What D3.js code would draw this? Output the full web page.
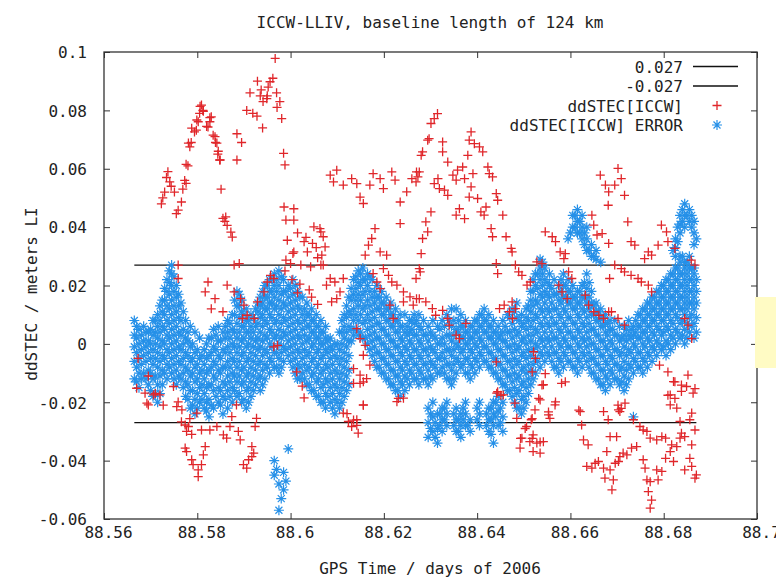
<!DOCTYPE html>
<html><head><meta charset="utf-8">
<script src="https://cdn.jsdelivr.net/npm/d3@7"></script>
<style>
body{margin:0;background:#fff}
svg{display:block}
text{font-family:"DejaVu Sans Mono",monospace;font-size:16px;fill:#222}
</style></head>
<body><svg id="chart" width="776" height="581"></svg>
<script>
// ---- data ----
const title = "ICCW-LLIV, baseline length of 124 km";
const xLabel = "GPS Time / days of 2006";
const yLabel = "ddSTEC / meters LI";
const xTicks = [88.56, 88.58, 88.6, 88.62, 88.64, 88.66, 88.68, 88.7];
const xTickLabels = ["88.56","88.58","88.6","88.62","88.64","88.66","88.68","88.7"];
const yTicks = [-0.06, -0.04, -0.02, 0, 0.02, 0.04, 0.06, 0.08, 0.1];
const yTickLabels = ["-0.06","-0.04","-0.02","0","0.02","0.04","0.06","0.08","0.1"];
const thresholdValues = [0.027, -0.027];
const thresholdSpan = [88.5665, 88.687];
const legendLabels = ["0.027", "-0.027", "ddSTEC[ICCW]", "ddSTEC[ICCW] ERROR"];

const redPoints = [
[88.5723,0.048],[88.5726,0.050],[88.5730,0.052],[88.5734,0.057],[88.5737,0.059],[88.5741,0.0555],[88.5744,0.054],[88.5751,0.052],[88.5755,0.0446],[88.5759,0.0458],[88.5766,0.0486],[88.5769,0.053],[88.5773,0.056],[88.5776,0.055],[88.5776,0.0615],[88.5780,0.061],[88.5781,0.0688],[88.5784,0.0675],[88.5787,0.069],[88.5788,0.0739],[88.5794,0.0726],[88.5798,0.0732],[88.5799,0.0767],[88.5802,0.0761],[88.5805,0.079],[88.5806,0.0814],[88.5809,0.0818],[88.5812,0.080],[88.5813,0.0797],[88.5820,0.0745],[88.5823,0.0743],[88.5827,0.0761],[88.5827,0.0775],[88.5830,0.0778],[88.5834,0.0715],[88.5838,0.071],[88.5839,0.069],[88.5842,0.0688],[88.5844,0.065],[88.5845,0.066],[88.5848,0.063],[88.5849,0.063],[88.5851,0.053],[88.5855,0.043],[88.5859,0.042],[88.5861,0.0435],[88.5864,0.0406],[88.5872,0.0383],[88.5875,0.0366],[88.5879,0.027],[88.5890,0.0275],
[88.5885,0.063],[88.5885,0.072],[88.5895,0.069],[88.5906,0.080],[88.5913,0.086],[88.5919,0.079],[88.5928,0.078],[88.5940,0.074],[88.5941,0.083],[88.5949,0.084],[88.5956,0.0898],[88.5967,0.0978],[88.5970,0.086],[88.5971,0.081],[88.5977,0.083],[88.5981,0.0772],[88.5985,0.0653],[88.5988,0.0613],[88.5935,0.085],[88.5952,0.088],[88.5962,0.091],[88.5929,0.090],[88.5937,0.087],[88.5950,0.085],
[88.5986,0.0469],[88.5990,0.0424],[88.6007,0.0463],[88.6007,0.0424],[88.6050,0.0401],[88.6065,0.0384],[88.5993,0.0355],[88.6029,0.035],[88.6047,0.0344],[88.6007,0.0315],[88.6036,0.0315],[88.5990,0.0287],[88.6000,0.0275],[88.6022,0.027],[88.6065,0.027],[88.6043,0.0264],[88.6015,0.038],[88.6033,0.0365],[88.6055,0.033],[88.6058,0.0295],[88.6005,0.031],
[88.5988,0.025],[88.6003,0.022],[88.6020,0.0205],[88.6040,0.0185],[88.6045,0.016],[88.6058,0.0135],[88.6015,0.0175],
[88.5864,0.0201],[88.5879,0.0178],[88.5893,0.0155],[88.5900,0.0133],[88.5907,0.0098],[88.5897,0.0087],[88.5929,0.0144],[88.5943,0.0178],[88.5950,0.0212],[88.5964,0.0224],[88.5957,0.0235],[88.5972,-0.0005],[88.5964,-0.001],[88.5922,0.0087],
[88.6013,-0.0096],[88.6025,-0.0145],[88.6029,-0.0185],
[88.5759,0.027],[88.5759,0.0224],[88.5817,0.0178],[88.5838,0.0155],[88.5855,0.011],[88.5823,0.0212],[88.5830,0.012],[88.5673,-0.005],[88.5695,-0.011],[88.5710,-0.017],[88.5727,-0.021],[88.5759,-0.0199],[88.5784,-0.0256],[88.5766,-0.0267],[88.5788,-0.031],
[88.5670,-0.0152],[88.5688,-0.0169],[88.5692,-0.0203],[88.5706,-0.0175],[88.5695,-0.0209],[88.5720,-0.0175],[88.5749,-0.0146],[88.5756,-0.0215],[88.5767,-0.0226],[88.5774,-0.0278],[88.5781,-0.0283],[88.5777,-0.030],[88.5799,-0.0237],[88.5774,-0.0357],[88.5777,-0.0369],[88.5788,-0.0397],[88.5791,-0.0414],[88.5802,-0.0432],[88.5802,-0.0455],[88.5809,-0.0414],[88.5817,-0.0352],[88.5813,-0.038],[88.5809,-0.0295],[88.5827,-0.0295],[88.5842,-0.0283],[88.5856,-0.0312],[88.5863,-0.0323],[88.5870,-0.0283],[88.5874,-0.0249],[88.5884,-0.0209],[88.5888,-0.030],[88.5892,-0.0329],[88.5899,-0.0414],[88.5906,-0.0426],[88.5910,-0.0397],[88.5917,-0.0386],[88.5921,-0.0374],[88.5917,-0.0352],[88.5924,-0.0283],[88.5927,-0.0255],
[88.6113,-0.0237],[88.6124,-0.0266],[88.6131,-0.0283],[88.6145,-0.0306],[88.6142,-0.026],[88.6156,-0.0209],[88.6149,-0.0135],[88.6135,-0.0135],[88.6228,-0.0198],[88.6242,-0.0186],
[88.6442,-0.0169],[88.6456,-0.0175],[88.6481,-0.0203],[88.6485,-0.0255],[88.6506,-0.0283],[88.6496,-0.0323],[88.6492,-0.0357],[88.6513,-0.0335],[88.6520,-0.0312],[88.6528,-0.034],[88.6535,-0.0374],[88.6542,-0.0335],[88.6520,-0.0369],[88.6516,-0.026],[88.6524,-0.0226],[88.6535,-0.0192],[88.6542,-0.014],[88.6553,-0.0243],[88.6556,-0.0255],[88.6567,-0.0209],[88.6581,-0.0135],
[88.6621,-0.0232],[88.6624,-0.0278],[88.6628,-0.0329],[88.6638,-0.0346],[88.6635,-0.042],[88.6646,-0.0426],[88.6653,-0.0409],[88.6660,-0.0403],[88.6671,-0.0426],[88.6674,-0.046],[88.6685,-0.0432],[88.6692,-0.0466],[88.6689,-0.050],[88.6696,-0.0409],[88.6703,-0.0403],[88.6706,-0.0386],[88.6713,-0.0374],[88.6721,-0.038],[88.6731,-0.0357],[88.6742,-0.0352],[88.6678,-0.0369],[88.6685,-0.0318],[88.6699,-0.0318],[88.6681,-0.026],[88.6671,-0.0232],[88.6706,-0.0232],[88.6717,-0.0203],[88.6703,-0.0226],[88.6735,-0.026],[88.6749,-0.0283],[88.6756,-0.0295],[88.6764,-0.030],
[88.6756,-0.0397],[88.6760,-0.0426],[88.6764,-0.0466],[88.6771,-0.0472],[88.6767,-0.0506],[88.6774,-0.0535],[88.6771,-0.0563],[88.6785,-0.0432],[88.6788,-0.0466],[88.6796,-0.0437],[88.6771,-0.0323],[88.6785,-0.0329],[88.6796,-0.0318],[88.6804,-0.0323],[88.6804,-0.0392],[88.6814,-0.0369],[88.6821,-0.0403],[88.6817,-0.0346],[88.6828,-0.0352],[88.6835,-0.0323],[88.6838,-0.0306],[88.6845,-0.0318],[88.6860,-0.0346],[88.6867,-0.0295],[88.6856,-0.0392],[88.6845,-0.0432],[88.6860,-0.042],[88.6867,-0.046],[88.6870,-0.0449],[88.6856,-0.026],[88.6860,-0.0237],[88.6835,-0.0266],[88.6814,-0.0209],[88.6828,-0.022],[88.6814,-0.0175],[88.6838,-0.0163],[88.6849,-0.0146],[88.6863,-0.0169],[88.6821,-0.0129],
[88.6085,0.0578],[88.6099,0.0595],[88.6092,0.0555],[88.6113,0.0544],[88.6131,0.0566],[88.6142,0.0549],[88.6149,0.0503],[88.6156,0.0481],[88.6170,0.0544],[88.6177,0.0583],[88.6192,0.0566],[88.6199,0.0532],[88.6217,0.0589],[88.6224,0.0561],[88.6235,0.0486],[88.6249,0.0521],[88.6260,0.0566],[88.6270,0.0589],[88.6235,0.0412],[88.6181,0.0395],[88.6174,0.0361],[88.6167,0.0338],[88.6160,0.0304],[88.6192,0.0315],[88.6206,0.0304],[88.6199,0.0258],[88.6210,0.0235],[88.6217,0.0212],[88.6228,0.0201],[88.6242,0.0178],[88.6256,0.0161],[88.6270,0.0155],[88.6177,0.0241],[88.6185,0.0212],[88.6192,0.0189],[88.6213,0.0133],
[88.6063,0.0395],[88.6070,0.0367],[88.6074,0.0332],[88.6067,0.0304],[88.6070,0.027],[88.6085,0.0224],[88.6077,0.0201],[88.6095,0.0212],[88.6106,0.0178],[88.6099,0.0155],[88.6088,0.0144],[88.6113,0.0224],[88.6142,0.0052],[88.6149,0.0018],[88.6160,-0.0005],[88.6156,-0.0039],[88.6170,-0.0073],[88.6135,-0.0085],[88.6149,-0.0107],[88.6156,-0.013],[88.6163,-0.0119],[88.6231,-0.0187],[88.6156,-0.021],[88.6121,-0.0239],[88.6135,-0.0261],[88.6142,-0.0279],[88.6242,0.0144],[88.6263,0.0133],[88.6220,0.0087],[88.6278,0.0247],
[88.6315,0.0789],[88.6308,0.0772],[88.6301,0.0755],[88.6297,0.0703],[88.6294,0.0698],[88.6283,0.0658],[88.6280,0.0646],[88.6276,0.0589],[88.6273,0.0572],[88.6269,0.0555],[88.6326,0.0692],[88.6326,0.0658],[88.6337,0.0623],[88.6316,0.0566],[88.6308,0.0549],[88.6319,0.0532],[88.6330,0.0527],[88.6337,0.0509],[88.6348,0.0578],[88.6358,0.0595],[88.6369,0.0606],[88.6373,0.0566],[88.6355,0.0561],[88.6387,0.0726],[88.6383,0.0698],[88.6394,0.0686],[88.6405,0.0675],[88.6412,0.0658],[88.6380,0.0646],[88.6391,0.0583],[88.6423,0.0606],[88.6426,0.0583],[88.6433,0.0572],[88.6441,0.0515],[88.6444,0.0492],[88.6455,0.0441],[88.6387,0.0538],[88.6383,0.0503],[88.6401,0.0498],[88.6362,0.0463],[88.6355,0.0441],[88.6373,0.0429],[88.6408,0.0452],[88.6415,0.0441],[88.6419,0.0469],[88.6430,0.0395],[88.6433,0.0367],
[88.6301,0.0452],[88.6290,0.0418],[88.6294,0.0384],[88.6283,0.0361],[88.6280,0.0309],[88.6276,0.0258],[88.6462,0.0367],[88.6473,0.0327],[88.6441,0.0275],[88.6444,0.0241],[88.6269,0.0224],[88.6276,0.0155],[88.6290,0.0144],[88.6304,0.0121],[88.6311,0.0098],[88.6326,0.0115],[88.6337,0.0087],[88.6340,0.0064],[88.6355,0.003],[88.6362,0.0018],[88.6376,0.007],[88.6441,-0.0062],[88.6444,-0.0164],[88.6451,-0.0176],[88.6448,0.0121],[88.6458,0.0133],[88.6469,0.011],[88.6476,0.0087],
[88.6664,0.0578],[88.6675,0.0544],[88.6682,0.0521],[88.6646,0.0441],[88.6650,0.0407],[88.6657,0.0373],[88.6668,0.0378],[88.6682,0.0344],[88.6546,0.0384],[88.6561,0.0367],[88.6568,0.035],[88.6578,0.0315],[88.6589,0.0309],[88.6586,0.0292],[88.6528,0.0281],[88.6539,0.0275],[88.6475,0.0315],[88.6482,0.027],[88.6489,0.0247],[88.6496,0.0235],[88.6507,0.0201],[88.6514,0.0212],[88.6575,0.0201],[88.6582,0.0178],[88.6593,0.0155],[88.6596,0.0247],[88.6603,0.0224],[88.6475,0.0144],[88.6482,0.0121],[88.6632,0.0167],[88.6639,0.0133],[88.6650,0.011],[88.6661,0.0098],[88.6671,0.0087],[88.6682,0.011],
[88.6521,-0.0027],[88.6525,-0.005],[88.6518,-0.0096],[88.6546,-0.0102],[88.6539,-0.0141],[88.6532,-0.0187],[88.6568,-0.0199],[88.6553,-0.0233],[88.6589,-0.013],[88.6618,-0.0227],[88.6518,-0.0256],[88.6503,-0.029],[88.6518,-0.0324],[88.6535,-0.0336],[88.6493,-0.0324],
[88.6702,0.0601],[88.6709,0.0566],[88.6695,0.0544],[88.6716,0.0509],[88.6681,0.0475],[88.6723,0.0418],[88.6730,0.035],[88.6738,0.0338],[88.6795,0.0407],[88.6806,0.0384],[88.6809,0.035],[88.6788,0.0338],[88.6767,0.0315],[88.6774,0.0304],[88.6759,0.0292],[88.6824,0.0327],[88.6859,0.0287],[88.6867,0.027],[88.6695,0.027],[88.6709,0.0258],[88.6716,0.0247],[88.6730,0.0235],[88.6745,0.0224],[88.6752,0.0212],[88.6767,0.0201],[88.6774,0.0178],[88.6684,0.0224],[88.6688,0.011],[88.6702,0.0087],[88.6716,0.0064],[88.6845,0.0087],[88.6852,0.0064],[88.6860,0.0018],[88.6791,-0.0073],[88.6809,-0.0096],[88.6824,-0.013],[88.6838,-0.0141],[88.6852,-0.0107],[88.6867,-0.0153],[88.6809,-0.0176],[88.6824,-0.0187],[88.6702,-0.021],[88.6709,-0.0221]
];

// blue "ERROR" series, first group of epochs
const blueTimesA = [
88.5665,88.5675,88.5685,88.5695,88.5705,88.5715,88.5725,88.5735,88.5745,88.5755,
88.5765,88.5775,88.5785,88.5795,88.5805,88.5815,88.5825,88.5835,88.5845,88.5855,
88.5865,88.5875,88.5885,88.5895,88.5905,88.5915,88.5925,88.5935,88.5945,88.5955,
88.5965,88.5975,88.5985,88.5995,88.6005,88.6015,88.6025,88.6035,88.6045,88.6055,
88.6065,88.6075,88.6085,88.6095,88.6105,88.6115,88.6125,88.6135,88.6145,88.6155,
88.6165,88.6175,88.6185,88.6195,88.6205,88.6215,88.6225,88.6235,88.6245,88.6255,
88.6265,88.6275,88.6285,88.6295,88.6305,88.6315,88.6325,88.6335,88.6345,88.6355,
88.6365,88.6375,88.6385,88.6395,88.6405,88.6415,88.6425,88.6435,88.6445,88.6455,
88.6465,88.6475,88.6485,88.6495,88.6505,88.6515,88.6525,88.6535,88.6545,88.6555,
88.6565,88.6575,88.6585,88.6595,88.6605,88.6615,88.6625,88.6635,88.6645,88.6655,
88.6665,88.6675,88.6685,88.6695,88.6705,88.6715,88.6725,88.6735,88.6745,88.6755,
88.6765,88.6775,88.6785,88.6795,88.6805,88.6815,88.6825,88.6835,88.6845,88.6855,88.6865
];
const blueValuesA = [
[-0.012,-0.006,-0.001,0.003,0.008],
[-0.015,-0.010,-0.005,0.000,0.005],
[-0.010,-0.004,0.001,0.006],
[-0.014,-0.009,-0.003,0.001,0.004],
[-0.018,-0.012,-0.007,-0.002,0.003,0.008],
[-0.020,-0.014,-0.008,-0.003,0.002,0.006,0.010],
[-0.014,-0.009,-0.004,0.001,0.006,0.011,0.015],
[-0.012,-0.007,-0.002,0.003,0.008,0.013,0.018,0.022],
[-0.010,-0.005,0.000,0.005,0.010,0.015,0.020,0.024,0.027],
[-0.014,-0.009,-0.004,0.001,0.006,0.011,0.016,0.020],
[-0.012,-0.007,-0.002,0.003,0.008,0.014],
[-0.018,-0.013,-0.008,-0.003,0.002,0.008],
[-0.022,-0.016,-0.011,-0.006,-0.001,0.006],
[-0.024,-0.019,-0.013,-0.008,-0.003,0.004],
[-0.020,-0.015,-0.010,-0.005,0.002],
[-0.022,-0.017,-0.012,-0.007,-0.002],
[-0.025,-0.019,-0.014,-0.009,-0.004,0.002],
[-0.022,-0.016,-0.011,-0.006,-0.001,0.005],
[-0.020,-0.015,-0.009,-0.004,0.001,0.006],
[-0.024,-0.018,-0.013,-0.008,-0.002,0.004],
[-0.022,-0.016,-0.011,-0.006,-0.001,0.004,0.008],
[-0.020,-0.015,-0.010,-0.005,0.000,0.005,0.010],
[-0.018,-0.013,-0.008,-0.003,0.002,0.007,0.013,0.018],
[-0.020,-0.014,-0.009,-0.004,0.001,0.006,0.011,0.015],
[-0.022,-0.016,-0.011,-0.006,-0.001,0.004,0.008,0.012],
[-0.018,-0.013,-0.008,-0.003,0.002,0.006,0.010],
[-0.014,-0.009,-0.004,0.001,0.006,0.012],
[-0.016,-0.011,-0.006,-0.001,0.004,0.009,0.013,0.016],
[-0.012,-0.007,-0.002,0.003,0.008,0.012,0.016,0.020],
[-0.010,-0.005,0.000,0.005,0.010,0.014,0.018,0.022],
[-0.045,-0.040,-0.008,-0.003,0.002,0.007,0.012,0.016,0.020,0.024],
[-0.057,-0.048,-0.010,-0.005,0.000,0.005,0.010,0.015,0.020,0.025],
[-0.050,-0.044,-0.006,-0.001,0.004,0.009,0.014,0.018,0.022],
[-0.036,-0.004,0.001,0.006,0.011,0.016,0.020],
[-0.008,-0.003,0.002,0.007,0.012,0.017,0.022],
[-0.012,-0.007,-0.002,0.003,0.008,0.013,0.018],
[-0.010,-0.005,0.000,0.005,0.010,0.016],
[-0.014,-0.009,-0.004,0.001,0.006,0.010,0.014],
[-0.016,-0.011,-0.006,-0.001,0.004,0.008,0.012],
[-0.018,-0.013,-0.008,-0.003,0.002,0.006,0.010],
[-0.020,-0.015,-0.010,-0.005,0.000,0.004,0.008],
[-0.022,-0.017,-0.012,-0.007,-0.002,0.002,0.006],
[-0.020,-0.015,-0.010,-0.005,-0.001,0.002],
[-0.024,-0.019,-0.014,-0.009,-0.004,0.000],
[-0.022,-0.017,-0.012,-0.007,-0.002,0.004],
[-0.018,-0.013,-0.008,-0.003,0.002,0.006,0.010],
[-0.014,-0.009,-0.004,0.001,0.006,0.011,0.016],
[0.003,0.008,0.012,0.017,0.022],
[0.003,0.008,0.013,0.017,0.021,0.025],
[0.002,0.007,0.012,0.017,0.022,0.026],
[0.000,0.005,0.010,0.015,0.020,0.024],
[-0.004,0.001,0.006,0.011,0.016,0.022],
[-0.008,-0.003,0.002,0.007,0.012,0.016,0.020],
[-0.010,-0.005,0.000,0.005,0.010,0.014,0.018],
[-0.012,-0.007,-0.002,0.003,0.008,0.012,0.016],
[-0.014,-0.009,-0.004,0.001,0.006,0.010,0.014],
[-0.016,-0.011,-0.006,-0.001,0.004,0.008,0.012],
[-0.018,-0.013,-0.008,-0.003,0.002,0.006,0.010],
[-0.016,-0.011,-0.006,-0.001,0.004,0.010],
[-0.014,-0.009,-0.004,0.001,0.004,0.008],
[-0.012,-0.007,-0.002,0.003,0.007,0.010],
[-0.014,-0.009,-0.004,0.001,0.006,0.010],
[-0.012,-0.007,-0.002,0.003,0.008],
[-0.032,-0.027,-0.022,-0.014,-0.009,-0.004,0.001,0.006],
[-0.030,-0.025,-0.020,-0.012,-0.007,-0.002,0.003,0.008],
[-0.034,-0.029,-0.024,-0.010,-0.005,0.000,0.006],
[-0.030,-0.026,-0.022,-0.008,-0.003,0.002,0.008],
[-0.028,-0.024,-0.020,-0.012,-0.007,-0.002,0.003,0.010],
[-0.014,-0.009,-0.004,0.001,0.006,0.012],
[-0.030,-0.026,-0.022,-0.010,-0.005,0.000,0.005,0.012],
[-0.032,-0.028,-0.024,-0.008,-0.003,0.002,0.006,0.010],
[-0.028,-0.024,-0.020,-0.010,-0.005,0.000,0.004,0.008],
[-0.030,-0.026,-0.012,-0.007,-0.002,0.002,0.006],
[-0.010,-0.005,0.000,0.004,0.008],
[-0.028,-0.024,-0.020,-0.008,-0.003,0.002,0.006,0.010],
[-0.006,-0.001,0.004,0.008,0.012],
[-0.030,-0.026,-0.022,-0.008,-0.003,0.002,0.006,0.010],
[-0.034,-0.028,-0.024,-0.020,-0.010,-0.005,0.000,0.004,0.008],
[-0.028,-0.023,-0.018,-0.012,-0.007,-0.002,0.002,0.006],
[-0.030,-0.025,-0.020,-0.014,-0.009,-0.004,0.001,0.004,0.008],
[-0.016,-0.011,-0.006,-0.001,0.004,0.010],
[-0.018,-0.013,-0.008,-0.003,0.002,0.007,0.012],
[-0.022,-0.017,-0.012,-0.007,-0.002,0.003,0.009,0.014],
[-0.024,-0.019,-0.014,-0.009,-0.004,0.001,0.006,0.010],
[-0.020,-0.015,-0.010,-0.005,0.000,0.005,0.009,0.012],
[-0.014,-0.009,-0.004,0.001,0.006,0.011,0.015,0.018],
[-0.010,-0.005,0.000,0.005,0.010,0.015,0.020,0.024],
[-0.008,-0.003,0.002,0.007,0.012,0.017,0.022,0.026,0.029],
[-0.006,-0.001,0.004,0.009,0.014,0.018,0.022,0.026],
[-0.004,0.001,0.006,0.011,0.016,0.020,0.024],
[-0.008,-0.003,0.002,0.007,0.012,0.017,0.022],
[-0.010,-0.005,0.000,0.005,0.010,0.015,0.020],
[-0.008,-0.003,0.002,0.007,0.012,0.016,0.020,0.024],
[-0.006,-0.001,0.004,0.009,0.014,0.018,0.022,0.036],
[-0.008,-0.003,0.002,0.007,0.012,0.016,0.020,0.040,0.044],
[-0.010,-0.005,0.000,0.005,0.010,0.014,0.018,0.038,0.042,0.046],
[-0.008,-0.003,0.002,0.007,0.012,0.016,0.020,0.036,0.040,0.044],
[-0.006,-0.001,0.004,0.009,0.014,0.019,0.024,0.032,0.036,0.040],
[-0.010,-0.005,0.000,0.005,0.010,0.014,0.018,0.030,0.034],
[-0.012,-0.007,-0.002,0.003,0.008,0.011,0.014,0.029,0.032],
[-0.014,-0.009,-0.004,0.001,0.006,0.009,0.012,0.028],
[-0.016,-0.011,-0.006,-0.001,0.004,0.007,0.010],
[-0.014,-0.009,-0.004,0.001,0.005,0.008],
[-0.012,-0.007,-0.002,0.003,0.008],
[-0.014,-0.009,-0.004,0.001,0.006],
[-0.016,-0.011,-0.006,-0.001,0.003,0.006],
[-0.012,-0.007,-0.002,0.003,0.008],
[-0.025,-0.010,-0.005,0.000,0.003,0.006],
[-0.008,-0.003,0.002,0.006,0.010],
[-0.010,-0.005,0.000,0.004,0.008,0.012],
[-0.008,-0.003,0.002,0.006,0.010,0.014],
[-0.006,-0.001,0.004,0.008,0.012,0.016],
[-0.004,0.001,0.006,0.010,0.014,0.018],
[-0.002,0.003,0.008,0.012,0.016,0.020],
[-0.004,0.001,0.006,0.010,0.014,0.018,0.022],
[-0.002,0.003,0.008,0.012,0.016,0.020,0.024],
[0.000,0.005,0.010,0.014,0.018,0.022,0.026,0.030,0.033,0.036],
[0.002,0.007,0.012,0.016,0.020,0.024,0.028,0.030,0.038,0.041,0.044],
[0.000,0.005,0.010,0.014,0.018,0.022,0.026,0.028,0.040,0.044,0.048],
[0.004,0.009,0.014,0.018,0.022,0.026,0.030,0.042,0.046],
[0.002,0.007,0.012,0.016,0.020,0.024,0.026,0.034,0.038,0.042]
];

// blue "ERROR" series, second group of epochs
const blueTimesB = [
88.5670,88.5680,88.5690,88.5700,88.5710,88.5720,88.5730,88.5740,88.5750,88.5760,
88.5770,88.5780,88.5790,88.5800,88.5810,88.5820,88.5830,88.5840,88.5850,88.5860,
88.5870,88.5880,88.5890,88.5900,88.5910,88.5920,88.5930,88.5940,88.5950,88.5960,
88.5970,88.5980,88.5990,88.6000,88.6010,88.6020,88.6030,88.6040,88.6050,88.6060,
88.6070,88.6080,88.6090,88.6100,88.6110,88.6120,88.6130,88.6140,88.6150,88.6160,
88.6170,88.6180,88.6190,88.6200,88.6210,88.6220,88.6230,88.6240,88.6250,88.6260,
88.6270,88.6280,88.6290,88.6300,88.6310,88.6320,88.6330,88.6340,88.6350,88.6360,
88.6370,88.6380,88.6390,88.6400,88.6410,88.6420,88.6430,88.6440,88.6450,88.6460,
88.6470,88.6480,88.6490,88.6500,88.6510,88.6520,88.6530,88.6540,88.6550,88.6560,
88.6570,88.6580,88.6590,88.6600,88.6610,88.6620,88.6630,88.6640,88.6650,88.6660,
88.6670,88.6680,88.6690,88.6700,88.6710,88.6720,88.6730,88.6740,88.6750,88.6760,
88.6770,88.6780,88.6790,88.6800,88.6810,88.6820,88.6830,88.6840,88.6850,88.6860,88.6870
];
const blueValuesB = [
[-0.013,-0.008,-0.003,0.002,0.006],
[-0.012,-0.007,-0.002,0.003],
[-0.012,-0.006,-0.001,0.004],
[-0.016,-0.010,-0.005,0.000,0.005],
[-0.017,-0.011,-0.005,0.000,0.004,0.008],
[-0.017,-0.011,-0.006,-0.001,0.004,0.008,0.013],
[-0.010,-0.005,0.000,0.005,0.010,0.015,0.019],
[-0.008,-0.003,0.002,0.007,0.012,0.017,0.021,0.025],
[-0.012,-0.007,-0.002,0.003,0.008,0.013,0.018,0.023],
[-0.011,-0.006,-0.001,0.004,0.009,0.013,0.017],
[-0.015,-0.010,-0.005,0.000,0.005,0.011],
[-0.019,-0.014,-0.009,-0.004,0.001,0.004],
[-0.021,-0.016,-0.010,-0.005,0.000],
[-0.022,-0.017,-0.012,-0.007,-0.002],
[-0.019,-0.014,-0.009,-0.004],
[-0.023,-0.020,-0.015,-0.010,-0.005,0.000],
[-0.021,-0.014,-0.008,-0.003,0.002],
[-0.018,-0.012,-0.007,-0.002,0.003],
[-0.021,-0.016,-0.010,-0.005,0.001],
[-0.019,-0.014,-0.008,-0.003,0.002,0.006],
[-0.018,-0.013,-0.008,-0.003,0.002,0.007],
[-0.016,-0.011,-0.006,-0.001,0.004,0.010,0.015],
[-0.017,-0.011,-0.006,-0.001,0.004,0.009,0.013,0.017],
[-0.019,-0.013,-0.008,-0.003,0.002,0.006,0.010],
[-0.020,-0.015,-0.010,-0.005,0.000,0.004,0.008],
[-0.016,-0.011,-0.006,-0.001,0.004,0.009],
[-0.012,-0.007,-0.002,0.002,0.007,0.011,0.014],
[-0.014,-0.009,-0.004,0.001,0.006,0.010,0.014,0.018],
[-0.008,-0.003,0.002,0.007,0.012,0.016,0.020],
[-0.006,-0.001,0.004,0.009,0.014,0.018,0.022],
[-0.043,-0.008,-0.003,0.003,0.008,0.013,0.018,0.022],
[-0.053,-0.008,-0.003,0.002,0.007,0.012,0.017,0.023],
[-0.047,-0.002,0.003,0.008,0.013,0.018],
[-0.006,-0.001,0.004,0.009,0.014,0.019],
[-0.010,-0.005,0.000,0.005,0.010,0.015,0.020],
[-0.012,-0.008,-0.003,0.002,0.007,0.012,0.016],
[-0.012,-0.007,-0.002,0.003,0.008,0.012],
[-0.014,-0.008,-0.003,0.002,0.006,0.010],
[-0.016,-0.010,-0.005,0.000,0.004,0.008],
[-0.018,-0.012,-0.007,-0.002,0.002,0.006],
[-0.020,-0.014,-0.009,-0.004,0.000,0.004],
[-0.018,-0.013,-0.008,-0.003,0.001],
[-0.022,-0.017,-0.012,-0.007,-0.002],
[-0.020,-0.015,-0.010,-0.005,0.000],
[-0.020,-0.015,-0.010,-0.005,0.000,0.004,0.008],
[-0.016,-0.011,-0.006,-0.001,0.004,0.009,0.013],
[0.001,0.005,0.010,0.015,0.019],
[0.005,0.010,0.015,0.019,0.023],
[0.004,0.010,0.015,0.020,0.024],
[0.002,0.008,0.013,0.018,0.022],
[-0.002,0.003,0.008,0.013,0.018,0.023],
[-0.006,-0.001,0.004,0.009,0.014,0.018],
[-0.008,-0.003,0.002,0.007,0.012,0.016],
[-0.010,-0.005,0.000,0.005,0.010,0.014],
[-0.012,-0.007,-0.002,0.003,0.008,0.012],
[-0.014,-0.009,-0.004,0.001,0.006,0.010],
[-0.016,-0.011,-0.006,-0.001,0.004,0.008],
[-0.014,-0.009,-0.004,0.001,0.006],
[-0.012,-0.007,-0.002,0.003,0.006],
[-0.010,-0.005,0.000,0.005,0.008],
[-0.012,-0.007,-0.002,0.003,0.008],
[-0.010,-0.005,0.000,0.005],
[-0.012,-0.007,-0.002,0.003],
[-0.029,-0.024,-0.011,-0.006,-0.001,0.004],
[-0.032,-0.027,-0.008,-0.003,0.002],
[-0.028,-0.024,-0.010,-0.005,0.000,0.005],
[-0.026,-0.022,-0.010,-0.005,0.000,0.006],
[-0.012,-0.007,-0.002,0.003,0.008],
[-0.028,-0.024,-0.012,-0.007,-0.002,0.003,0.008],
[-0.030,-0.026,-0.006,-0.001,0.004,0.008],
[-0.026,-0.022,-0.007,-0.002,0.002,0.006],
[-0.028,-0.010,-0.005,0.000,0.004],
[-0.008,-0.003,0.002,0.006],
[-0.026,-0.022,-0.006,-0.001,0.004,0.008],
[-0.004,0.001,0.006,0.010],
[-0.028,-0.024,-0.006,-0.001,0.004,0.008],
[-0.031,-0.026,-0.022,-0.008,-0.003,0.002,0.006],
[-0.025,-0.020,-0.010,-0.005,0.000,0.004],
[-0.027,-0.022,-0.012,-0.007,-0.002,0.003],
[-0.014,-0.009,-0.004,0.001,0.006],
[-0.016,-0.011,-0.006,-0.001,0.004,0.009],
[-0.020,-0.015,-0.010,-0.005,0.000,0.005,0.011],
[-0.022,-0.016,-0.011,-0.006,-0.001,0.004,0.008],
[-0.022,-0.018,-0.013,-0.008,-0.003,0.002,0.007],
[-0.017,-0.012,-0.007,-0.002,0.003,0.008,0.013],
[-0.012,-0.007,-0.002,0.003,0.008,0.013,0.018,0.022],
[-0.006,-0.001,0.004,0.009,0.014,0.019,0.024],
[-0.004,0.001,0.006,0.011,0.016,0.020,0.024,0.028],
[-0.003,0.002,0.007,0.012,0.017,0.021],
[-0.006,-0.001,0.004,0.009,0.014,0.019],
[-0.008,-0.003,0.002,0.007,0.012,0.017],
[-0.006,-0.001,0.004,0.009,0.014,0.018,0.022],
[-0.004,0.001,0.006,0.011,0.016,0.020],
[-0.006,-0.001,0.004,0.009,0.014,0.018,0.038],
[-0.008,-0.003,0.002,0.007,0.012,0.016,0.040,0.044],
[-0.006,-0.001,0.004,0.009,0.014,0.018,0.038,0.042],
[-0.004,0.001,0.006,0.011,0.016,0.021,0.034,0.038],
[-0.008,-0.003,0.002,0.007,0.012,0.016,0.021,0.032],
[-0.010,-0.005,0.000,0.005,0.010,0.013,0.030],
[-0.012,-0.007,-0.002,0.003,0.008,0.011],
[-0.014,-0.009,-0.004,0.001,0.006,0.009],
[-0.012,-0.007,-0.002,0.003,0.007],
[-0.010,-0.005,0.000,0.005],
[-0.012,-0.007,-0.002,0.003],
[-0.013,-0.008,-0.003,0.002],
[-0.014,-0.009,-0.004,0.001,0.005],
[-0.008,-0.003,0.002,0.005],
[-0.006,-0.001,0.004,0.008],
[-0.008,-0.003,0.002,0.006,0.010],
[-0.006,-0.001,0.004,0.008,0.012],
[-0.004,0.001,0.006,0.010,0.014],
[-0.002,0.003,0.008,0.012,0.016],
[0.000,0.005,0.010,0.014,0.018],
[-0.001,0.004,0.008,0.012,0.016,0.020],
[0.000,0.005,0.010,0.014,0.018,0.022],
[0.002,0.007,0.012,0.016,0.020,0.024,0.032],
[0.004,0.009,0.014,0.018,0.022,0.026,0.035,0.040],
[0.003,0.008,0.012,0.016,0.020,0.024,0.030,0.042,0.046],
[0.002,0.007,0.012,0.016,0.020,0.024,0.028,0.044],
[0.006,0.010,0.014,0.018,0.022,0.026,0.040,0.044],
[0.004,0.009,0.014,0.018,0.022,0.036]
];

// ---- drawing ----
const M = {left:104, right:757, top:52, bottom:519};
const svg = d3.select("#chart");
const x = d3.scaleLinear().domain([88.56, 88.7]).range([M.left, M.right]);
const y = d3.scaleLinear().domain([-0.06, 0.1]).range([M.bottom, M.top]);

const RED = "#e0262a", BLUE = "#2590e8", INK = "#333";
const plusPath = "M-4.5,0H4.5M0,-4.5V4.5";
const starPath = "M-5,0H5M0,-5V5M-3.5,-3.5L3.5,3.5M-3.5,3.5L3.5,-3.5";

// title & labels
svg.append("text").attr("x", 430).attr("y", 28).attr("text-anchor","middle").text(title);
svg.append("text").attr("x", 430).attr("y", 574).attr("text-anchor","middle").text(xLabel);
svg.append("text").attr("transform","translate(37,294) rotate(-90)").attr("text-anchor","middle").text(yLabel);

// axes (gnuplot-style inward ticks, mirrored on all sides)
const tickLen = 6;
const axB = d3.axisBottom(x).tickValues(xTicks).tickFormat((d,i)=>xTickLabels[i]).tickSizeInner(-tickLen).tickSizeOuter(0).tickPadding(16);
const gB = svg.append("g").attr("transform",`translate(0,${M.bottom})`).call(axB);
const axT = d3.axisTop(x).tickValues(xTicks).tickFormat("").tickSizeInner(-tickLen).tickSizeOuter(0);
const gT = svg.append("g").attr("transform",`translate(0,${M.top})`).call(axT);
const axL = d3.axisLeft(y).tickValues(yTicks).tickFormat((d,i)=>yTickLabels[i]).tickSizeInner(-tickLen).tickSizeOuter(0).tickPadding(17);
const gL = svg.append("g").attr("transform",`translate(${M.left},0)`).call(axL);
const axR = d3.axisRight(y).tickValues(yTicks).tickFormat("").tickSizeInner(-tickLen).tickSizeOuter(0);
const gR = svg.append("g").attr("transform",`translate(${M.right},0)`).call(axR);
[gB,gT,gL,gR].forEach(g=>{
  g.select(".domain").remove();
  g.selectAll(".tick line").attr("stroke", INK).attr("stroke-width",1);
  g.selectAll("text").attr("font-family","DejaVu Sans Mono, monospace").attr("font-size",16).attr("fill","#222");
});
gB.selectAll("text").attr("dx", 4).attr("dy", "0.2em");
gL.selectAll("text").attr("dy","0.36em");

// threshold lines
svg.append("g").selectAll("line").data(thresholdValues).join("line")
  .attr("x1", x(thresholdSpan[0])).attr("x2", x(thresholdSpan[1]))
  .attr("y1", d=>y(d)).attr("y2", d=>y(d))
  .attr("stroke","#111").attr("stroke-width",1.3);

// blue error points
const bluePts = [];
blueTimesA.forEach((t,i)=>blueValuesA[i].forEach(v=>bluePts.push([t,v])));
blueTimesB.forEach((t,i)=>blueValuesB[i].forEach(v=>bluePts.push([t,v])));
svg.append("g").selectAll("path").data(bluePts).join("path")
  .attr("d", starPath)
  .attr("transform", d=>`translate(${x(d[0])},${y(d[1])})`)
  .attr("stroke", BLUE).attr("stroke-width",1.2).attr("fill","none");

// red points
svg.append("g").selectAll("path").data(redPoints).join("path")
  .attr("d", plusPath)
  .attr("transform", d=>`translate(${x(d[0])},${y(d[1])})`)
  .attr("stroke", RED).attr("stroke-width",1.3).attr("fill","none");

// border
svg.append("rect").attr("x",M.left).attr("y",M.top).attr("width",M.right-M.left).attr("height",M.bottom-M.top)
  .attr("fill","none").attr("stroke",INK).attr("stroke-width",1.3);

// legend
const lg = svg.append("g");
const rowsY = [66.5, 86, 105.5, 125];
legendLabels.forEach((lab,i)=>{
  lg.append("text").attr("x",683).attr("y",rowsY[i]+6).attr("text-anchor","end").text(lab);
});
[0,1].forEach(i=>lg.append("line").attr("x1",693).attr("x2",738).attr("y1",rowsY[i]).attr("y2",rowsY[i]).attr("stroke","#111").attr("stroke-width",1.3));
lg.append("path").attr("d",plusPath).attr("transform",`translate(717,${rowsY[2]})`).attr("stroke",RED).attr("stroke-width",1.3);
lg.append("path").attr("d",starPath).attr("transform",`translate(717,${rowsY[3]})`).attr("stroke",BLUE).attr("stroke-width",1.2);

// pale yellow note box at the right edge of the page
svg.append("rect").attr("x",755).attr("y",297).attr("width",21).attr("height",71).attr("fill","#fffbc4");
</script>
</body></html>
